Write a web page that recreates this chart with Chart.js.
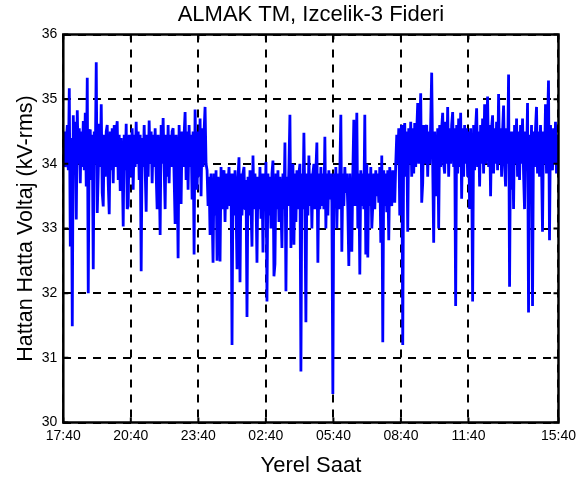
<!DOCTYPE html>
<html>
<head>
<meta charset="utf-8">
<title>ALMAK TM, Izcelik-3 Fideri</title>
<script src="https://cdn.jsdelivr.net/npm/chart.js@4.4.0/dist/chart.umd.min.js"></script>
<style>
  html, body { margin: 0; padding: 0; background: #fff; }
  #wrap { width: 581px; height: 482px; }
</style>
</head>
<body>
<div id="wrap"><canvas id="voltChart" width="581" height="482"></canvas></div>
<script>
// hours since 17:40 where the time axis is labelled
const tickHours = [0, 3, 6, 9, 12, 15, 18, 22];
const tickLabels = ['17:40', '20:40', '23:40', '02:40', '05:40', '08:40', '11:40', '15:40'];
const spanHours = 22;

// line-to-line voltage, kV-rms, evenly spaced over the 22 h window
const eveningKV = [
  34.2, 34.5, 33.95, 34.3, 34.6, 33.9, 35.17, 32.72, 34.4, 31.49,
  34.75, 33.9, 34.65, 33.14, 34.83, 34.0, 34.55, 33.7, 34.5, 33.95,
  34.66, 33.9, 34.79, 33.65, 35.33, 32.0, 34.5, 34.53, 33.75, 34.45,
  32.37, 34.5, 34.0, 35.57, 33.24, 33.86, 34.62, 33.95, 34.92, 33.55,
  33.34, 34.45, 33.8, 34.5, 34.6, 33.7, 33.22, 34.5, 33.9, 34.55,
  33.7, 34.6, 33.95, 34.5, 34.66, 33.75, 34.45, 33.58, 34.4, 34.0,
  33.03, 34.45, 33.9, 34.62, 33.3, 33.35, 34.45, 33.8, 34.0, 34.55,
  33.6, 34.45, 33.95, 34.65, 34.0, 34.5, 33.75, 34.45, 32.34, 34.4,
  33.95, 34.6, 33.9, 33.26, 34.45, 33.8, 34.67, 34.0, 34.5, 33.7,
  34.45, 33.95, 34.55, 33.85, 33.3, 34.45, 33.9, 32.9, 34.6, 34.0,
  34.71, 33.95, 33.3, 34.45, 33.8, 34.6, 33.7, 34.45, 33.95, 34.5,
  34.55, 33.8, 33.07, 34.45, 33.95, 32.54, 34.6, 33.9, 33.38, 34.5,
  33.95, 34.45, 34.8, 33.75, 34.5, 33.6, 34.6, 33.95, 34.45, 33.45,
  34.5, 32.6, 34.84, 33.95, 33.6, 34.5, 33.8, 34.7, 33.5, 34.55,
  33.95, 34.5, 34.88, 34.0
];
const nightKV = [
  33.9, 33.35, 33.8, 32.9, 33.85, 33.3,
  32.47, 33.85, 33.2, 33.9, 32.5, 33.8, 33.35, 32.49, 33.95, 33.3,
  33.8, 33.9, 33.1, 33.85, 33.3, 33.7, 33.95, 33.35, 33.85, 31.2,
  33.85, 33.2, 33.9, 33.35, 32.37, 33.8, 34.1, 32.17, 33.85, 33.2,
  33.85, 33.95, 33.3, 33.75, 31.63, 33.8, 33.2, 33.9, 33.35, 32.72,
  34.13, 33.3, 33.85, 33.5, 32.47, 33.8, 33.3, 33.95, 33.15, 33.85,
  32.63, 33.85, 33.3, 34.03, 31.87, 33.85, 33.2, 33.8, 33.0, 33.85,
  34.05, 32.26, 32.45, 33.85, 33.3, 33.9, 33.1, 33.8, 33.35, 32.7,
  33.85, 33.3, 34.33, 32.03, 33.8, 33.35, 33.95, 34.76, 32.7, 33.85,
  34.0, 32.75, 33.85, 33.1, 33.9, 33.3, 33.85, 34.0, 30.79, 33.85,
  33.3, 34.48, 33.35, 31.55, 33.85, 33.2, 34.13, 33.35, 33.85, 33.0,
  33.85, 34.0, 33.3, 33.9, 34.33, 32.47, 33.85, 33.3, 33.95, 33.35,
  33.85, 33.3, 34.42, 33.0, 33.85, 33.2, 33.9, 33.45, 33.85, 33.4,
  30.44, 33.85, 33.35, 33.95, 33.0, 33.85, 33.3, 33.9, 34.76, 32.64,
  33.85, 33.35, 33.95, 33.55, 33.85, 33.3, 32.42, 33.85, 33.35, 32.64,
  33.85, 34.68, 33.35, 33.9, 34.79, 33.0, 33.85, 32.29, 33.9, 33.35,
  33.85, 33.3, 34.76, 32.6, 34.0, 32.55, 33.85, 33.35, 33.95, 33.0,
  33.35, 33.85, 33.3, 33.9, 33.5, 33.85, 33.4, 33.95, 32.78, 34.13,
  31.24, 33.9, 33.35, 33.85, 33.25, 33.9, 32.82, 33.95, 33.4, 33.35,
  33.9, 33.5, 33.4, 34.0
];
const dayKV = [
  34.45, 34.0, 34.55, 33.2, 34.5, 34.6,
  31.2, 34.5, 34.63, 33.8, 34.5, 32.95, 34.55, 34.0, 34.65, 33.8,
  34.55, 33.85, 34.63, 33.95, 34.5, 34.94, 34.0, 34.55, 35.09, 33.4,
  33.7, 34.6, 34.0, 34.55, 34.6, 33.8, 34.5, 34.0, 34.65, 35.41,
  34.0, 32.78, 34.5, 33.85, 33.5, 34.55, 33.0, 34.6, 33.95, 34.55,
  34.79, 34.0, 33.85, 34.65, 34.0, 34.88, 33.8, 34.55, 34.0, 34.6,
  34.8, 33.95, 34.55, 31.8, 34.6, 33.85, 34.7, 33.95, 34.79, 33.46,
  34.55, 33.8, 34.6, 34.0, 34.55, 33.8, 34.5, 33.3, 34.55, 34.0,
  31.87, 34.6, 33.9, 34.55, 34.86, 33.95, 34.5, 33.65, 34.6, 34.0,
  34.7, 33.85, 34.92, 34.0, 34.55, 35.04, 33.95, 34.6, 33.5, 34.55,
  34.75, 33.85, 34.55, 34.0, 34.65, 33.9, 35.08, 34.0, 34.55, 33.8,
  34.5, 34.9, 34.0, 33.65, 34.55, 34.0, 35.38, 32.1, 34.5, 33.6,
  34.5, 33.3, 34.6, 34.0, 34.7, 33.8, 34.5, 33.75, 34.6, 34.0,
  34.7, 33.85, 33.3, 34.5, 34.0, 34.94, 31.7, 34.45, 33.8, 34.6,
  31.8, 34.5, 33.95, 34.55, 34.88, 33.85, 34.5, 33.8, 34.6, 34.0,
  32.95, 34.5, 34.0, 34.92, 33.85, 34.55, 35.29, 32.82, 34.6, 34.0,
  33.9, 34.55, 34.0, 34.65, 33.85, 34.45, 34.3
];

const voltageKV = eveningKV.concat(nightKV, dayKV);
const points = voltageKV.map((v, i) => ({ x: spanHours * i / (voltageKV.length - 1), y: v }));

const FONT = 'Liberation Sans, Arial, Helvetica, sans-serif';
Chart.defaults.color = '#000';
Chart.defaults.font.family = FONT;

// axes box with inward tick marks drawn over the trace
const frameBox = {
  id: 'frameBox',
  afterDatasetsDraw(chart) {
    const { ctx, chartArea: a, scales: { x, y } } = chart;
    ctx.save();
    ctx.strokeStyle = '#000';
    ctx.lineWidth = 2;
    ctx.beginPath();
    x.ticks.forEach(t => {
      const px = x.getPixelForValue(t.value);
      ctx.moveTo(px, a.bottom); ctx.lineTo(px, a.bottom - 5);
      ctx.moveTo(px, a.top); ctx.lineTo(px, a.top + 5);
    });
    y.ticks.forEach(t => {
      const py = y.getPixelForValue(t.value);
      ctx.moveTo(a.left, py); ctx.lineTo(a.left + 5, py);
      ctx.moveTo(a.right, py); ctx.lineTo(a.right - 5, py);
    });
    ctx.stroke();
    ctx.lineWidth = 2.5;
    ctx.strokeRect(a.left, a.top, a.right - a.left, a.bottom - a.top);
    ctx.restore();
  }
};

new Chart(document.getElementById('voltChart').getContext('2d'), {
  type: 'line',
  data: {
    datasets: [{
      data: points,
      borderColor: '#0000ff',
      borderWidth: 2.8,
      borderJoinStyle: 'bevel',
      pointRadius: 0,
      tension: 0,
      fill: false
    }]
  },
  options: {
    responsive: false,
    animation: false,
    layout: { padding: { left: 0, right: 21, top: 0, bottom: 0 } },
    plugins: {
      legend: { display: false },
      tooltip: { enabled: false },
      title: {
        display: true,
        text: 'ALMAK TM, Izcelik-3 Fideri',
        fullSize: false,
        color: '#000',
        font: { family: FONT, size: 22, weight: 'normal' },
        padding: { top: 2, bottom: 6.1 }
      }
    },
    scales: {
      x: {
        type: 'linear',
        min: 0,
        max: spanHours,
        afterBuildTicks: s => { s.ticks = tickHours.map(v => ({ value: v })); },
        afterFit: s => { s.height = 59.5; },
        ticks: {
          autoSkip: false,
          maxRotation: 0,
          padding: 5,
          font: { size: 14 },
          callback: v => tickLabels[tickHours.indexOf(v)]
        },
        grid: { color: '#000', lineWidth: 2, drawTicks: false },
        border: { display: false, dash: [8, 7] },
        title: {
          display: true,
          text: 'Yerel Saat',
          font: { size: 22 },
          padding: { top: 2, bottom: 2.8 }
        }
      },
      y: {
        min: 30,
        max: 36,
        afterFit: s => { s.width = 63.3; },
        ticks: { stepSize: 1, padding: 6, font: { size: 14 } },
        grid: { color: '#000', lineWidth: 2, drawTicks: false },
        border: { display: false, dash: [8, 7] },
        title: {
          display: true,
          text: 'Hattan Hatta Voltaj (kV-rms)',
          font: { size: 21.5 },
          padding: { top: 13, bottom: 0 }
        }
      }
    }
  },
  plugins: [frameBox]
});
</script>
</body>
</html>
